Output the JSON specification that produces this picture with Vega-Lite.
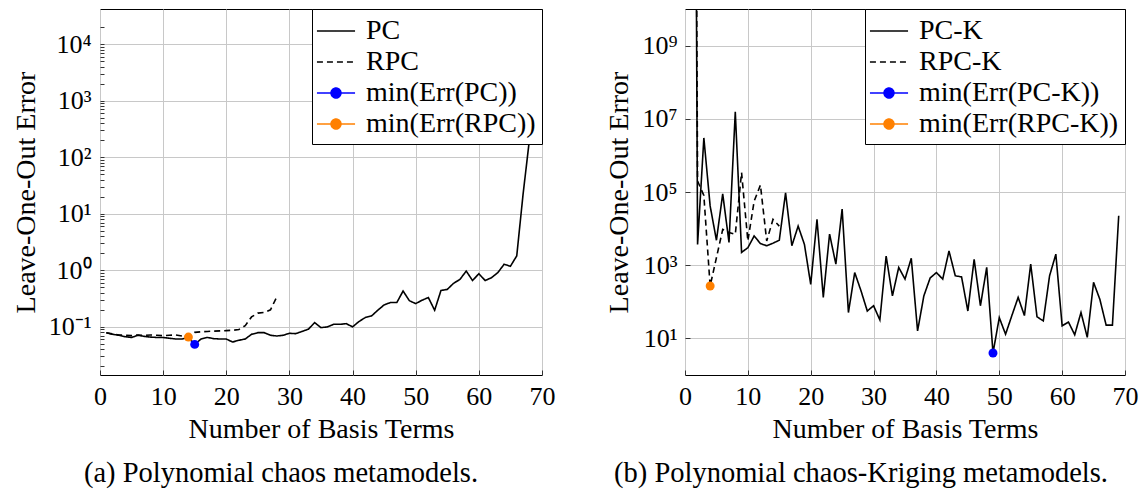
{
  "$schema": "https://vega.github.io/schema/vega-lite/v6.json",
  "padding": {"left": 11, "top": 8, "right": 2, "bottom": 2},
  "spacing": 49,
  "config": {
    "view": {"stroke": "black", "strokeWidth": 1},
    "axis": {
      "labelFont": "Liberation Serif", "labelFontSize": 26, "labelColor": "black",
      "titleFont": "Liberation Serif", "titleFontSize": 28, "titleFontWeight": "normal", "titleColor": "black",
      "domain": false, "tickColor": "#333333", "tickWidth": 1,
      "gridColor": "#c8c8c8", "gridWidth": 1,
      "labelFlush": false, "labelOverlap": false, "labelBound": false
    },
    "title": {"font": "Liberation Serif", "fontSize": 28.5, "fontWeight": "normal", "color": "black"}
  },
  "resolve": {"scale": {"color": "independent", "x": "independent", "y": "independent"}, "legend": {"color": "independent"}},
  "hconcat": [
    {
      "width": 442, "height": 366,
      "title": {"text": "(a) Polynomial chaos metamodels.", "orient": "bottom", "offset": 16, "dx": -40},
      "data": {"values": [
        {"s":"PC","n":1,"e":0.079},{"s":"PC","n":2,"e":0.074},{"s":"PC","n":3,"e":0.071},{"s":"PC","n":4,"e":0.067},{"s":"PC","n":5,"e":0.065},
        {"s":"PC","n":6,"e":0.071},{"s":"PC","n":7,"e":0.068},{"s":"PC","n":8,"e":0.066},{"s":"PC","n":9,"e":0.065},{"s":"PC","n":10,"e":0.065},
        {"s":"PC","n":11,"e":0.063},{"s":"PC","n":12,"e":0.061},{"s":"PC","n":13,"e":0.061},{"s":"PC","n":14,"e":0.065},{"s":"PC","n":15,"e":0.049},
        {"s":"PC","n":16,"e":0.061},{"s":"PC","n":17,"e":0.065},{"s":"PC","n":18,"e":0.062},{"s":"PC","n":19,"e":0.061},{"s":"PC","n":20,"e":0.061},
        {"s":"PC","n":21,"e":0.054},{"s":"PC","n":22,"e":0.058},{"s":"PC","n":23,"e":0.061},{"s":"PC","n":24,"e":0.074},{"s":"PC","n":25,"e":0.079},
        {"s":"PC","n":26,"e":0.079},{"s":"PC","n":27,"e":0.071},{"s":"PC","n":28,"e":0.069},{"s":"PC","n":29,"e":0.071},{"s":"PC","n":30,"e":0.077},
        {"s":"PC","n":31,"e":0.076},{"s":"PC","n":32,"e":0.083},{"s":"PC","n":33,"e":0.091},{"s":"PC","n":34,"e":0.119},{"s":"PC","n":35,"e":0.097},
        {"s":"PC","n":36,"e":0.1},{"s":"PC","n":37,"e":0.111},{"s":"PC","n":38,"e":0.111},{"s":"PC","n":39,"e":0.114},{"s":"PC","n":40,"e":0.1},
        {"s":"PC","n":41,"e":0.124},{"s":"PC","n":42,"e":0.146},{"s":"PC","n":43,"e":0.156},{"s":"PC","n":44,"e":0.197},{"s":"PC","n":45,"e":0.245},
        {"s":"PC","n":46,"e":0.269},{"s":"PC","n":47,"e":0.269},{"s":"PC","n":48,"e":0.43},{"s":"PC","n":49,"e":0.29},{"s":"PC","n":50,"e":0.258},
        {"s":"PC","n":51,"e":0.296},{"s":"PC","n":52,"e":0.33},{"s":"PC","n":53,"e":0.197},{"s":"PC","n":54,"e":0.44},{"s":"PC","n":55,"e":0.46},
        {"s":"PC","n":56,"e":0.59},{"s":"PC","n":57,"e":0.69},{"s":"PC","n":58,"e":0.97},{"s":"PC","n":59,"e":0.66},{"s":"PC","n":60,"e":0.87},
        {"s":"PC","n":61,"e":0.66},{"s":"PC","n":62,"e":0.74},{"s":"PC","n":63,"e":0.91},{"s":"PC","n":64,"e":1.28},{"s":"PC","n":65,"e":1.18},
        {"s":"PC","n":66,"e":1.8},{"s":"PC","n":67,"e":22},{"s":"PC","n":68,"e":200},{"s":"PC","n":69,"e":10000},
        {"s":"RPC","n":1,"e":0.079},{"s":"RPC","n":2,"e":0.075},{"s":"RPC","n":3,"e":0.072},{"s":"RPC","n":4,"e":0.071},{"s":"RPC","n":5,"e":0.07},
        {"s":"RPC","n":6,"e":0.072},{"s":"RPC","n":7,"e":0.071},{"s":"RPC","n":8,"e":0.072},{"s":"RPC","n":9,"e":0.071},{"s":"RPC","n":10,"e":0.07},
        {"s":"RPC","n":11,"e":0.071},{"s":"RPC","n":12,"e":0.072},{"s":"RPC","n":13,"e":0.069},{"s":"RPC","n":14,"e":0.066},{"s":"RPC","n":15,"e":0.08},
        {"s":"RPC","n":16,"e":0.082},{"s":"RPC","n":17,"e":0.083},{"s":"RPC","n":18,"e":0.084},{"s":"RPC","n":19,"e":0.085},{"s":"RPC","n":20,"e":0.086},
        {"s":"RPC","n":21,"e":0.087},{"s":"RPC","n":22,"e":0.09},{"s":"RPC","n":23,"e":0.105},{"s":"RPC","n":24,"e":0.15},{"s":"RPC","n":25,"e":0.175},
        {"s":"RPC","n":26,"e":0.18},{"s":"RPC","n":27,"e":0.2},{"s":"RPC","n":28,"e":0.34},
        {"s":"min(Err(PC))","n":15,"e":0.049},
        {"s":"min(Err(RPC))","n":14,"e":0.066}
      ]},
      "encoding": {
        "x": {"field": "n", "type": "quantitative", "scale": {"domain": [0, 70], "nice": false, "zero": false},
          "axis": {"values": [0,10,20,30,40,50,60,70], "title": "Number of Basis Terms", "grid": true,
            "tickSize": -5, "labelPadding": 13, "titlePadding": 6}},
        "y": {"field": "e", "type": "quantitative", "scale": {"type": "log", "domain": [0.0141, 41700], "nice": false},
          "axis": {"title": "Leave-One-Out Error", "titlePadding": 8, "labelPadding": 13,
            "values": [0.02,0.03,0.04,0.05,0.06,0.07,0.08,0.09,0.1,0.2,0.3,0.4,0.5,0.6,0.7,0.8,0.9,1,2,3,4,5,6,7,8,9,10,20,30,40,50,60,70,80,90,100,200,300,400,500,600,700,800,900,1000,2000,3000,4000,5000,6000,7000,8000,9000,10000,20000],
            "labelExpr": "datum.value == 0.1 ? '10⁻¹' : datum.value == 1 ? '10⁰' : datum.value == 10 ? '10¹' : datum.value == 100 ? '10²' : datum.value == 1000 ? '10³' : datum.value == 10000 ? '10⁴' : ''",
            "grid": true,
            "gridOpacity": {"condition": {"test": "abs(log(datum.value)/LN10 - round(log(datum.value)/LN10)) < 0.001", "value": 1}, "value": 0},
            "tickSize": -4}},
        "color": {"field": "s", "type": "nominal",
          "scale": {"domain": ["PC", "RPC", "min(Err(PC))", "min(Err(RPC))"], "range": ["black", "black", "#0000ff", "#ff8000"]},
          "legend": {"title": null, "orient": "top-right", "offset": 0, "padding": 6,
            "fillColor": "white", "strokeColor": "black",
            "labelFont": "Liberation Serif", "labelFontSize": 28, "labelColor": "black", "labelLimit": 400,
            "symbolSize": 900, "symbolStrokeWidth": 1.5, "symbolOffset": 2, "labelOffset": 14, "rowPadding": 1,
            "symbolType": "M-1.27,0H1.27",
            "encode": {
              "symbols": {"update": {
                "shape": {"signal": "indexof(datum.value, 'min') == 0 ? 'M-1.27,0H1.27M0.33,0A0.33,0.33,0,1,1,-0.33,0A0.33,0.33,0,1,1,0.33,0' : 'M-1.27,0H1.27'"},
                "strokeDash": {"signal": "datum.value == 'RPC' ? [6,4] : [1,0]"},
                "stroke": {"signal": "datum.value == 'min(Err(PC))' ? '#0000ff' : datum.value == 'min(Err(RPC))' ? '#ff8000' : 'black'"},
                "fill": {"signal": "datum.value == 'min(Err(PC))' ? '#0000ff' : datum.value == 'min(Err(RPC))' ? '#ff8000' : 'transparent'"}
              }}}}}
      },
      "layer": [
        {
          "transform": [{"filter": "datum.s == 'PC' || datum.s == 'RPC'"}],
          "mark": {"type": "line", "strokeWidth": 1.6, "clip": true},
          "encoding": {
            "strokeDash": {"field": "s", "type": "nominal", "scale": {"domain": ["PC", "RPC"], "range": [[1, 0], [6, 4]]}, "legend": null}
          }
        },
        {
          "transform": [{"filter": "indexof(datum.s, 'min') == 0"}],
          "mark": {"type": "point", "filled": true, "size": 80, "opacity": 1}
        }
      ]
    },
    {
      "width": 440, "height": 366,
      "title": {"text": "(b) Polynomial chaos-Kriging metamodels.", "orient": "bottom", "offset": 16, "dx": -44},
      "data": {"values": [
        {"s":"PC-K","n":1,"e":1e40},{"s":"PC-K","n":2,"e":3700},{"s":"PC-K","n":3,"e":3000000},{"s":"PC-K","n":4,"e":41700},{"s":"PC-K","n":5,"e":4800},
        {"s":"PC-K","n":6,"e":89000},{"s":"PC-K","n":7,"e":4200},{"s":"PC-K","n":8,"e":15500000},{"s":"PC-K","n":9,"e":2240},{"s":"PC-K","n":10,"e":3000},
        {"s":"PC-K","n":11,"e":6300},{"s":"PC-K","n":12,"e":3900},{"s":"PC-K","n":13,"e":3400},{"s":"PC-K","n":14,"e":4000},{"s":"PC-K","n":15,"e":4800},
        {"s":"PC-K","n":16,"e":95000},{"s":"PC-K","n":17,"e":3400},{"s":"PC-K","n":18,"e":11700},{"s":"PC-K","n":19,"e":3700},{"s":"PC-K","n":20,"e":300},
        {"s":"PC-K","n":21,"e":17800},{"s":"PC-K","n":22,"e":132},{"s":"PC-K","n":23,"e":7100},{"s":"PC-K","n":24,"e":1070},{"s":"PC-K","n":25,"e":34000},
        {"s":"PC-K","n":26,"e":51},{"s":"PC-K","n":27,"e":630},{"s":"PC-K","n":28,"e":200},{"s":"PC-K","n":29,"e":56},{"s":"PC-K","n":30,"e":78},
        {"s":"PC-K","n":31,"e":32},{"s":"PC-K","n":32,"e":1780},{"s":"PC-K","n":33,"e":145},{"s":"PC-K","n":34,"e":870},{"s":"PC-K","n":35,"e":417},
        {"s":"PC-K","n":36,"e":1550},{"s":"PC-K","n":37,"e":16},{"s":"PC-K","n":38,"e":145},{"s":"PC-K","n":39,"e":447},{"s":"PC-K","n":40,"e":630},
        {"s":"PC-K","n":41,"e":417},{"s":"PC-K","n":42,"e":2450},{"s":"PC-K","n":43,"e":513},{"s":"PC-K","n":44,"e":479},{"s":"PC-K","n":45,"e":56},
        {"s":"PC-K","n":46,"e":1450},{"s":"PC-K","n":47,"e":78},{"s":"PC-K","n":48,"e":870},{"s":"PC-K","n":49,"e":4.0},{"s":"PC-K","n":50,"e":37},
        {"s":"PC-K","n":51,"e":13},{"s":"PC-K","n":52,"e":42},{"s":"PC-K","n":53,"e":132},{"s":"PC-K","n":54,"e":42},{"s":"PC-K","n":55,"e":1070},
        {"s":"PC-K","n":56,"e":39},{"s":"PC-K","n":57,"e":30},{"s":"PC-K","n":58,"e":513},{"s":"PC-K","n":59,"e":2000},{"s":"PC-K","n":60,"e":22},
        {"s":"PC-K","n":61,"e":28},{"s":"PC-K","n":62,"e":12.6},{"s":"PC-K","n":63,"e":51},{"s":"PC-K","n":64,"e":10.7},{"s":"PC-K","n":65,"e":339},
        {"s":"PC-K","n":66,"e":117},{"s":"PC-K","n":67,"e":23},{"s":"PC-K","n":68,"e":23},{"s":"PC-K","n":69,"e":22400},
        {"s":"RPC-K","n":1,"e":1e40},{"s":"RPC-K","n":2,"e":200000},{"s":"RPC-K","n":3,"e":80000},{"s":"RPC-K","n":4,"e":270},{"s":"RPC-K","n":5,"e":1600},
        {"s":"RPC-K","n":6,"e":9500},{"s":"RPC-K","n":7,"e":7800},{"s":"RPC-K","n":8,"e":7000},{"s":"RPC-K","n":9,"e":340000},{"s":"RPC-K","n":10,"e":4600},
        {"s":"RPC-K","n":11,"e":56000},{"s":"RPC-K","n":12,"e":155000},{"s":"RPC-K","n":13,"e":4600},{"s":"RPC-K","n":14,"e":17800},{"s":"RPC-K","n":15,"e":11700},
        {"s":"min(Err(PC-K))","n":49,"e":4.0},
        {"s":"min(Err(RPC-K))","n":4,"e":270}
      ]},
      "encoding": {
        "x": {"field": "n", "type": "quantitative", "scale": {"domain": [0, 70], "nice": false, "zero": false},
          "axis": {"values": [0,10,20,30,40,50,60,70], "title": "Number of Basis Terms", "grid": true,
            "tickSize": -5, "labelPadding": 13, "titlePadding": 6}},
        "y": {"field": "e", "type": "quantitative", "scale": {"type": "log", "domain": [1, 10000000000], "nice": false},
          "axis": {"title": "Leave-One-Out Error", "titlePadding": 8, "labelPadding": 13,
            "values": [10, 1000, 100000, 10000000, 1000000000],
            "labelExpr": "datum.value == 10 ? '10¹' : datum.value == 1000 ? '10³' : datum.value == 100000 ? '10⁵' : datum.value == 10000000 ? '10⁷' : '10⁹'",
            "grid": true, "tickSize": -5}},
        "color": {"field": "s", "type": "nominal",
          "scale": {"domain": ["PC-K", "RPC-K", "min(Err(PC-K))", "min(Err(RPC-K))"], "range": ["black", "black", "#0000ff", "#ff8000"]},
          "legend": {"title": null, "orient": "top-right", "offset": 0, "padding": 6,
            "fillColor": "white", "strokeColor": "black",
            "labelFont": "Liberation Serif", "labelFontSize": 28, "labelColor": "black", "labelLimit": 400,
            "symbolSize": 900, "symbolStrokeWidth": 1.5, "symbolOffset": 2, "labelOffset": 14, "rowPadding": 1,
            "symbolType": "M-1.27,0H1.27",
            "encode": {
              "symbols": {"update": {
                "shape": {"signal": "indexof(datum.value, 'min') == 0 ? 'M-1.27,0H1.27M0.33,0A0.33,0.33,0,1,1,-0.33,0A0.33,0.33,0,1,1,0.33,0' : 'M-1.27,0H1.27'"},
                "strokeDash": {"signal": "datum.value == 'RPC-K' ? [6,4] : [1,0]"},
                "stroke": {"signal": "datum.value == 'min(Err(PC-K))' ? '#0000ff' : datum.value == 'min(Err(RPC-K))' ? '#ff8000' : 'black'"},
                "fill": {"signal": "datum.value == 'min(Err(PC-K))' ? '#0000ff' : datum.value == 'min(Err(RPC-K))' ? '#ff8000' : 'transparent'"}
              }}}}}
      },
      "layer": [
        {
          "transform": [{"filter": "datum.s == 'PC-K' || datum.s == 'RPC-K'"}],
          "mark": {"type": "line", "strokeWidth": 1.6, "clip": true},
          "encoding": {
            "strokeDash": {"field": "s", "type": "nominal", "scale": {"domain": ["PC-K", "RPC-K"], "range": [[1, 0], [6, 4]]}, "legend": null}
          }
        },
        {
          "transform": [{"filter": "indexof(datum.s, 'min') == 0"}],
          "mark": {"type": "point", "filled": true, "size": 80, "opacity": 1}
        }
      ]
    }
  ]
}
